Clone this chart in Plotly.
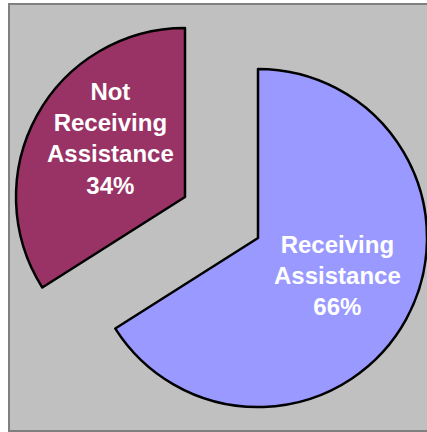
import plotly.graph_objects as go

# Share of households by assistance status
labels = ["Receiving Assistance", "Not Receiving Assistance"]
values = [66, 34]
colors = ["#9999FF", "#993366"]
label_lines = [["Receiving", "Assistance"], ["Not", "Receiving", "Assistance"]]

W, H = 427, 432
total = sum(values)


def px_x(x):
    return x / W


def px_y(y):
    return 1 - y / H


def domain_for(cx, cy, r):
    return dict(x=[px_x(cx - r), px_x(cx + r)], y=[px_y(cy + r), px_y(cy - r)])


# each slice gets its own pie trace so the two wedges sit apart
R = 169
centers = [(258, 238), (185, 197)]
text_pos = [(337, 275), (110, 138)]

fig = go.Figure()
for i, (cx, cy) in enumerate(centers):
    slice_colors = ["rgba(0,0,0,0)"] * len(values)
    slice_colors[i] = colors[i]
    line_w = [0] * len(values)
    line_w[i] = 2.5
    fig.add_trace(go.Pie(
        labels=labels,
        values=values,
        sort=False,
        direction="clockwise",
        rotation=0,
        domain=domain_for(cx, cy, R),
        marker=dict(colors=slice_colors, line=dict(color="black", width=line_w)),
        textinfo="none",
        hoverinfo="skip",
        showlegend=False,
    ))

annotations = []
for i, (tx, ty) in enumerate(text_pos):
    pct = round(100 * values[i] / total)
    text = "<br>".join(f"<b>{s}</b>" for s in label_lines[i] + [f"{pct}%"])
    annotations.append(dict(
        x=px_x(tx), y=px_y(ty), xref="paper", yref="paper",
        text=text, showarrow=False, xanchor="center", yanchor="middle",
        font=dict(family="Liberation Sans, Arial, sans-serif", size=24, color="white"),
        align="center",
    ))

fig.update_layout(
    width=W, height=H,
    margin=dict(l=0, r=0, t=0, b=0),
    paper_bgcolor="white",
    plot_bgcolor="white",
    shapes=[dict(
        type="rect", xref="paper", yref="paper", layer="below",
        x0=px_x(9), x1=px_x(440), y0=px_y(431), y1=px_y(4),
        fillcolor="#C0C0C0", line=dict(color="#808080", width=2),
    )],
    annotations=annotations,
)

fig.write_html("out.html")
